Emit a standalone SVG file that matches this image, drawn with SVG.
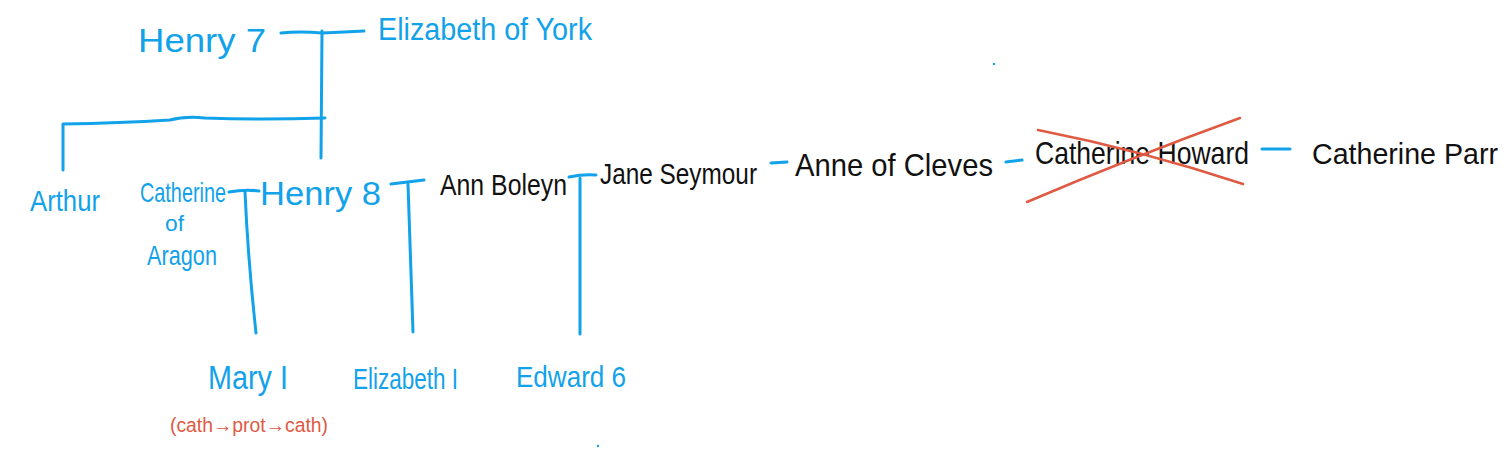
<svg xmlns="http://www.w3.org/2000/svg" width="1512" height="449" viewBox="0 0 1512 449">
<style>
text{font-family:"Liberation Sans","DejaVu Sans",sans-serif;}
.b{fill:#12a2ea;}
.k{fill:#111;}
.r{fill:#df5a43;}
.ln{stroke:#12a2ea;stroke-width:3;fill:none;stroke-linecap:round;stroke-linejoin:round;}
.x{stroke:#df5a43;stroke-width:2.5;fill:none;stroke-linecap:round;}
</style>
<rect width="1512" height="449" fill="#fff"/>
<g id="connectors">
<path class="ln" d="M281 33 Q300 31 322 33 Q345 32 364 31"/>
<path class="ln" d="M322 31 L321 158"/>
<path class="ln" d="M63 170 L63 124 Q120 123 170 120 Q185 116 205 118 Q260 120 325 118"/>
<path class="ln" d="M229 192 Q245 189 259 191"/>
<path class="ln" d="M245 192 Q248 260 256 333"/>
<path class="ln" d="M391 184 Q408 182 424 180"/>
<path class="ln" d="M408 184 L413 332"/>
<path class="ln" d="M569 177 Q583 174 596 175"/>
<path class="ln" d="M580 178 L580 334"/>
<path class="ln" d="M771 163 L787 162"/>
<path class="ln" d="M1006 162 L1022 160"/>
<path class="ln" d="M1262 149 L1290 149"/>
</g>
<g id="henry7"><text class="b" x="138" y="52" font-size="34" textLength="128" lengthAdjust="spacingAndGlyphs">Henry 7</text></g>
<g id="elizabeth-york"><text class="b" x="378" y="40" font-size="31" textLength="214" lengthAdjust="spacingAndGlyphs">Elizabeth of York</text></g>
<g id="arthur"><text class="b" x="30" y="211" font-size="30" textLength="70" lengthAdjust="spacingAndGlyphs">Arthur</text></g>
<g id="catherine-aragon">
<text class="b" x="140" y="202" font-size="28" textLength="86" lengthAdjust="spacingAndGlyphs">Catherine</text>
<text class="b" x="165" y="231" font-size="22" textLength="19" lengthAdjust="spacingAndGlyphs">of</text>
<text class="b" x="147" y="265" font-size="28" textLength="70" lengthAdjust="spacingAndGlyphs">Aragon</text>
</g>
<g id="henry8"><text class="b" x="260" y="205" font-size="33" textLength="121" lengthAdjust="spacingAndGlyphs">Henry  8</text></g>
<g id="ann-boleyn"><text class="k" x="440" y="195" font-size="30" textLength="127" lengthAdjust="spacingAndGlyphs">Ann Boleyn</text></g>
<g id="jane-seymour"><text class="k" x="600" y="184" font-size="29" textLength="157" lengthAdjust="spacingAndGlyphs">Jane Seymour</text></g>
<g id="anne-cleves"><text class="k" x="795" y="176" font-size="32" textLength="198" lengthAdjust="spacingAndGlyphs">Anne of Cleves</text></g>
<g id="catherine-howard">
<text class="k" x="1035" y="164" font-size="32" textLength="214" lengthAdjust="spacingAndGlyphs">Catherine Howard</text>
<path class="x" d="M1027 202 Q1130 158 1240 118"/>
<path class="x" d="M1038 130 Q1140 150 1243 184"/>
</g>
<g id="catherine-parr"><text class="k" x="1312" y="164" font-size="30" textLength="186" lengthAdjust="spacingAndGlyphs">Catherine Parr</text></g>
<g id="mary1">
<text class="b" x="208" y="389" font-size="34" textLength="80" lengthAdjust="spacingAndGlyphs">Mary I</text>
<text class="r" x="170" y="432" font-size="20" textLength="158" lengthAdjust="spacingAndGlyphs">(cath→prot→cath)</text>
</g>
<g id="elizabeth1"><text class="b" x="353" y="389" font-size="30" textLength="105" lengthAdjust="spacingAndGlyphs">Elizabeth I</text></g>
<g id="edward6"><text class="b" x="516" y="387" font-size="30" textLength="110" lengthAdjust="spacingAndGlyphs">Edward  6</text></g>
<circle cx="994" cy="64" r="1.2" fill="#12a2ea"/>
<circle cx="598" cy="446" r="1.2" fill="#12a2ea"/>
</svg>
